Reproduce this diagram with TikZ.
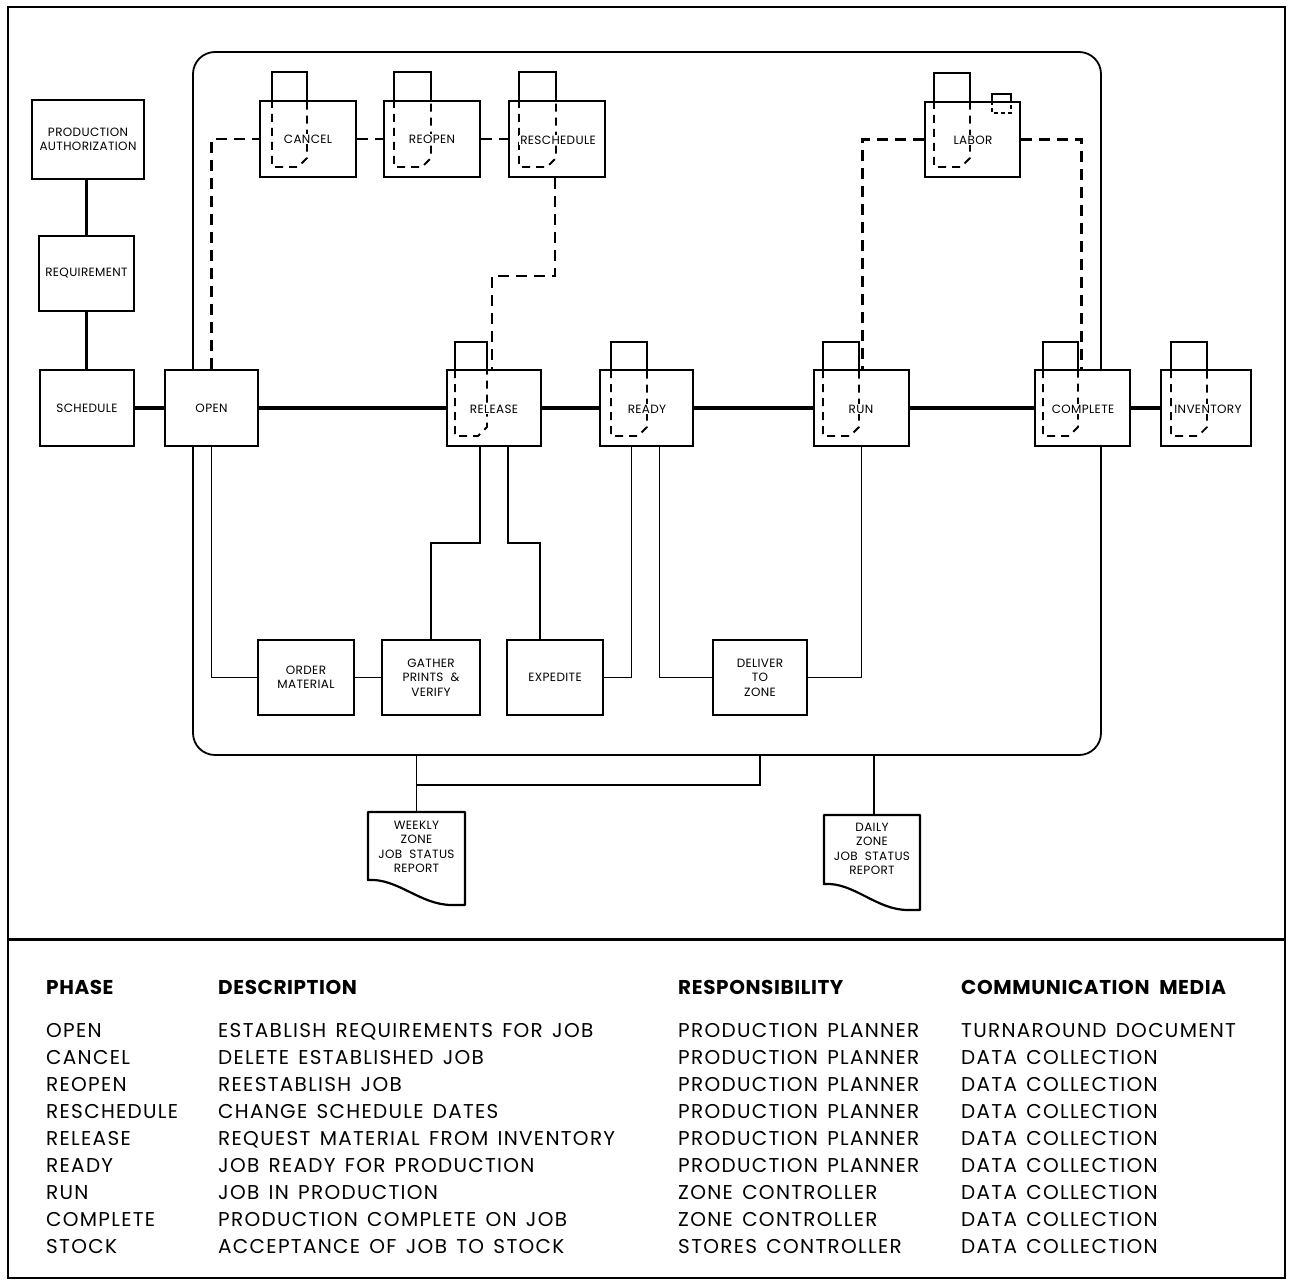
\documentclass[tikz,border=0pt]{standalone}
\usepackage{fontspec}
\setmainfont{Poppins}
\newfontfamily\boxfam[LetterSpace=3]{Poppins}
\newfontfamily\tabfam[LetterSpace=6.5,WordSpace=1.4]{Poppins}
\newfontfamily\headfam[LetterSpace=3,WordSpace=2]{Poppins}
\usetikzlibrary{calc}
\newcommand{\boxfont}{\boxfam\fontsize{12}{14.5}\selectfont}
\newcommand{\tabfont}{\tabfam\fontsize{20}{27}\selectfont}
\newcommand{\headfont}{\headfam\fontsize{20}{27}\selectfont\bfseries}
% punched-card symbol: x1, x2, box top y, box bottom y
\newcommand{\pcard}[4]{%
  \draw[tabline] (#1,#3) -- (#1,#3-28) -- (#2,#3-28) -- (#2,#3);
  \draw[carddash] (#1,#3) -- (#1,#4-11) -- (#2-9,#4-11) -- (#2,#4-20) -- (#2,#3);
}
\begin{document}
\begin{tikzpicture}[x=1pt,y=-1pt,
  box/.style={draw, line width=2.6pt, fill=white, inner sep=0pt, align=center, font=\boxfont},
  lbl/.style={fill=white, inner sep=1pt, align=center, font=\boxfont},
  rowline/.style={line width=3.4pt},
  thinline/.style={line width=1.6pt},
  dashline/.style={line width=2.1pt, dash pattern=on 11pt off 7pt},
  carddash/.style={line width=1.8pt, dash pattern=on 8pt off 6pt},
  minidash/.style={line width=1.5pt, dash pattern=on 4pt off 3pt},
  tabline/.style={line width=1.7pt},
  frameline/.style={line width=2.4pt},
  docline/.style={line width=2.2pt, line join=round},
  doctext/.style={align=center, inner sep=0pt, font=\boxfont},
  tabtxt/.style={anchor=base west, inner sep=0pt, font=\tabfont},
  headtxt/.style={anchor=base west, inner sep=0pt, font=\headfont},
]
\useasboundingbox (0,0) rectangle (1289,1284);
\fill[white] (0,0) rectangle (1289,1284);
\draw[frameline] (8,7) rectangle (1285,1278);
\draw[frameline, line width=3pt] (8,939) -- (1285,939);

% zone container
\node[draw, line width=1.8pt, rounded corners=22pt, minimum width=908pt, minimum height=703pt, inner sep=0pt] (zone) at (647,403.5) {};

% coordinates for bends
\coordinate (relL) at (455,543);
\coordinate (relR) at (520,543);
\coordinate (rsb) at (520,276);
\coordinate (wkb) at (760,785);

% boxes
\node[box, minimum width=112pt, minimum height=79pt] (pa) at (88,139.5) {PRODUCTION\\AUTHORIZATION};
\node[box, minimum width=95pt, minimum height=75pt] (req) at (86.5,273.5) {REQUIREMENT};
\node[box, minimum width=94pt, minimum height=76pt] (sched) at (87,408) {SCHEDULE};
\node[box, minimum width=93pt, minimum height=76pt] (open) at (211.5,408) {OPEN};
\node[box, minimum width=94pt, minimum height=76pt] (release) at (494,408) {};
\node[box, minimum width=93pt, minimum height=76pt] (ready) at (646.5,408) {};
\node[box, minimum width=95pt, minimum height=76pt] (run) at (861.5,408) {};
\node[box, minimum width=95pt, minimum height=76pt] (complete) at (1082.5,408) {};
\node[box, minimum width=90pt, minimum height=76pt] (inventory) at (1206,408) {};
\node[box, minimum width=96pt, minimum height=76pt] (cancel) at (308,139) {};
\node[box, minimum width=96pt, minimum height=76pt] (reopen) at (432,139) {};
\node[box, minimum width=96pt, minimum height=76pt] (resched) at (557,139) {};
\node[box, minimum width=95pt, minimum height=75pt] (labor) at (972.5,139.5) {};
\node[box, minimum width=96pt, minimum height=75pt] (order) at (306,677.5) {ORDER\\MATERIAL};
\node[box, minimum width=98pt, minimum height=75pt] (gather) at (431,677.5) {GATHER\\PRINTS \&\\VERIFY};
\node[box, minimum width=96pt, minimum height=75pt] (expedite) at (555,677.5) {EXPEDITE};
\node[box, minimum width=94pt, minimum height=75pt] (deliver) at (760,677.5) {DELIVER\\TO\\ZONE};

% reports
\node[doctext, minimum width=97pt, minimum height=70pt] (weekly) at (416.5,847) {WEEKLY\\ZONE\\JOB STATUS\\REPORT};
\node[doctext, minimum width=96pt, minimum height=68pt] (daily) at (872,849) {DAILY\\ZONE\\JOB STATUS\\REPORT};
\draw[docline] (465,905) -- (465,812) -- (368,812) -- (368,880) .. controls (398,878) and (420,905) .. (452,905) -- cycle;
\draw[docline] (920,910) -- (920,815) -- (824,815) -- (824,884) .. controls (854,882) and (876,910) .. (908,910) -- cycle;

% main row connectors
\draw[rowline, line width=4.5pt] (sched.east) -- (open.west);
\draw[rowline] (open.east) -- (release.west);
\draw[rowline] (release.east) -- (ready.west);
\draw[rowline] (ready.east) -- (run.west);
\draw[rowline] (run.east) -- (complete.west);
\draw[rowline, line width=4.5pt] (complete.east) -- (inventory.west);
\draw[rowline] (req.north |- pa.south) -- (req.north);
\draw[rowline] (req.south) -- (req.south |- sched.north);

% thin connectors
\draw[thinline] (open.south) |- (order.west);
\draw[thinline] (order.east) -- (gather.west);
\draw[thinline] ([xshift=-14pt]release.south) |- (relL) -| (gather.north);
\draw[thinline] ([xshift=14pt]release.south) |- (relR) -| ([xshift=-15pt]expedite.north);
\draw[thinline] ([xshift=-15pt]ready.south) |- (expedite.east);
\draw[thinline] ([xshift=13pt]ready.south) |- (deliver.west);
\draw[thinline] (run.south) |- (deliver.east);

% dashed connectors
\draw[dashline] (open.north) |- (cancel.west);
\draw[dashline] (cancel.east) -- (reopen.west);
\draw[dashline] (reopen.east) -- (resched.west);
\draw[dashline] ([xshift=-2pt]resched.south) |- (rsb) -| ([xshift=-2pt]release.north);
\draw[dashline] (labor.west) -| ([xshift=1pt]run.north);
\draw[dashline] (labor.east) -| ([xshift=-1pt]complete.north);

% report connectors
\draw[thinline] (weekly.north) -- (weekly.north |- zone.south);
\draw[thinline] (weekly.north |- wkb) -- (wkb) -- (wkb |- zone.south);
\draw[thinline] ([xshift=2pt]daily.north) -- ([xshift=2pt]daily.north |- zone.south);

% card symbols
\pcard{272}{307}{100}{178}
\pcard{394}{431}{100}{178}
\pcard{519}{556}{100}{178}
\pcard{934}{970}{101}{178}
\pcard{455}{487}{370}{447}
\pcard{611}{647}{370}{447}
\pcard{823}{859}{370}{447}
\pcard{1043}{1078}{370}{447}
\pcard{1171}{1207}{370}{447}
\draw[tabline] (992,101) -- (992,94) -- (1011,94) -- (1011,101);
\draw[minidash] (992,101) -- (992,113) -- (1011,113) -- (1011,101);

% labels over cards
\node[lbl] (cancellbl) at (308,139) {CANCEL};
\node[lbl] (reopenlbl) at (432,139) {REOPEN};
\node[lbl] (reschedlbl) at (558,140) {RESCHEDULE};
\node[lbl] (laborlbl) at (973,140) {LABOR};
\node[lbl] (releaselbl) at (494,409) {RELEASE};
\node[lbl] (readylbl) at (647,409) {READY};
\node[lbl] (runlbl) at (861,409) {RUN};
\node[lbl] (completelbl) at (1083,409) {COMPLETE};
\node[lbl] (inventorylbl) at (1208,409) {INVENTORY};

% table
\node[headtxt] (h1) at (46,994) {PHASE};
\node[headtxt] (h2) at (218,994) {DESCRIPTION};
\node[headtxt] (h3) at (678,994) {RESPONSIBILITY};
\node[headtxt] (h4) at (961,994) {COMMUNICATION MEDIA};
\foreach \p/\d/\r/\m [count=\i] in {
  OPEN/ESTABLISH REQUIREMENTS FOR JOB/PRODUCTION PLANNER/TURNAROUND DOCUMENT,
  CANCEL/DELETE ESTABLISHED JOB/PRODUCTION PLANNER/DATA COLLECTION,
  REOPEN/REESTABLISH JOB/PRODUCTION PLANNER/DATA COLLECTION,
  RESCHEDULE/CHANGE SCHEDULE DATES/PRODUCTION PLANNER/DATA COLLECTION,
  RELEASE/REQUEST MATERIAL FROM INVENTORY/PRODUCTION PLANNER/DATA COLLECTION,
  READY/JOB READY FOR PRODUCTION/PRODUCTION PLANNER/DATA COLLECTION,
  RUN/JOB IN PRODUCTION/ZONE CONTROLLER/DATA COLLECTION,
  COMPLETE/PRODUCTION COMPLETE ON JOB/ZONE CONTROLLER/DATA COLLECTION,
  STOCK/ACCEPTANCE OF JOB TO STOCK/STORES CONTROLLER/DATA COLLECTION} {
  \node[tabtxt] (ph\i) at (46,{1010+27*\i}) {\p};
  \node[tabtxt] (de\i) at (218,{1010+27*\i}) {\d};
  \node[tabtxt] (re\i) at (678,{1010+27*\i}) {\r};
  \node[tabtxt] (cm\i) at (961,{1010+27*\i}) {\m};
}
\end{tikzpicture}
\end{document}
